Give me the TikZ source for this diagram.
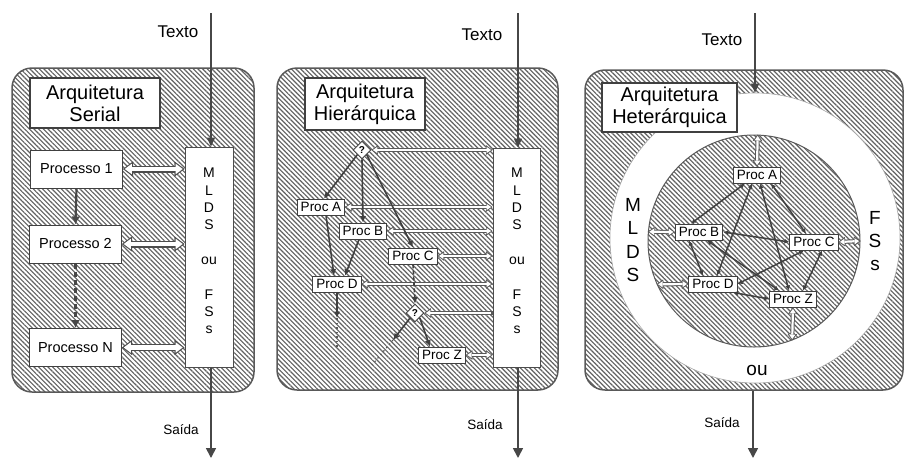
\documentclass[tikz,border=0pt]{standalone}
\usepackage{fontspec}
\setmainfont{Liberation Sans}
\usetikzlibrary{patterns.meta,arrows.meta,shapes.geometric,calc}
\tikzset{
  hatch/.style={pattern={Lines[angle=-45,distance=3.3pt,line width=1.15pt]}, pattern color=black!62},
  panel/.style={draw=black!65, line width=1.5pt, rounded corners=20pt, hatch, inner sep=0pt},
  titlebox/.style={draw=black!75, line width=1.8pt, fill=white, align=center, inner sep=0pt,
    font=\fontsize{20}{22}\selectfont},
  mbox/.style={draw=black!70, line width=1pt, fill=white, inner sep=0pt},
  mtext/.style={align=center, inner sep=0pt, font=\fontsize{14}{17.3}\selectfont},
  procbox/.style={draw=black!75, line width=1pt, fill=white, inner sep=0pt,
    minimum width=92pt, minimum height=38pt, font=\fontsize{14.5}{15}\selectfont},
  pbox/.style={draw=black!75, line width=0.9pt, fill=white, inner xsep=3.5pt, inner ysep=0pt,
    minimum height=16pt, font=\fontsize{13.5}{14}\selectfont},
  qdia/.style={diamond, draw=black!75, line width=0.9pt, fill=white, inner sep=0.5pt, aspect=1,
    minimum size=18pt, font=\fontsize{10}{10}\selectfont\bfseries},
  lab/.style={inner sep=0pt, font=\fontsize{17}{18}\selectfont},
  slab/.style={inner sep=0pt, font=\fontsize{13.5}{14}\selectfont},
  big/.style={inner sep=0pt, align=center, font=\fontsize{19}{23.3}\selectfont},
  inarr/.style={line width=1.5pt, draw=black!72, -{Triangle[length=9pt,width=8pt]}},
  outarr/.style={line width=1.7pt, draw=black!72, -{Triangle[length=10pt,width=10pt]}},
  darrb/.style={line width=2.2pt, draw=black!72, -{Latex[length=8pt,width=9pt]}},
  darr/.style={line width=1.6pt, draw=black!75, -{Latex[length=6.5pt,width=6.5pt]}},
  darr2/.style={line width=1.5pt, draw=black!75, {Latex[length=5pt,width=5pt]}-{Latex[length=5pt,width=5pt]}},
  dots/.style={line width=1.2pt, draw=black!65, dash pattern=on 1.5pt off 3pt},
  BO/.tip={Triangle[length=10pt,width=15pt,line width=0.4pt]},
  BI/.tip={Triangle[length=7pt,width=10.5pt,line width=0pt]},
  SO/.tip={Triangle[length=6.5pt,width=9.5pt,line width=0.3pt]},
  SI/.tip={Triangle[length=4.5pt,width=6.2pt,line width=0pt]},
  hbo/.style={line width=7pt, draw=black!70},
  hbi/.style={line width=4.2pt, draw=white, shorten <=1.8pt, shorten >=1.8pt},
  hso/.style={line width=4.2pt, draw=black!65},
  hsi/.style={line width=2.2pt, draw=white, shorten <=1.4pt, shorten >=1.4pt},
}
\newcommand\holb[2]{\draw[hbo,BO-BO] #1 -- #2; \draw[hbi,BI-BI] #1 -- #2;}
\newcommand\hols[2]{\draw[hso,SO-SO] #1 -- #2; \draw[hsi,SI-SI] #1 -- #2;}
\newcommand\holsone[2]{\draw[hso,-SO] #1 -- #2; \draw[hsi,-SI] #1 -- #2;}

\begin{document}
\begin{tikzpicture}[x=1pt,y=-1pt]
\useasboundingbox (0,0) rectangle (905,459);

% ================= Panel 1: Serial =================
\node[panel, minimum width=242pt, minimum height=324pt] (P1) at (133,230) {};
\node[titlebox, minimum width=130pt, minimum height=50pt] (T1) at (95,103) {Arquitetura\\Serial};
\node[mbox, minimum width=48pt, minimum height=220pt] (m1) at (209,257) {};
\node[mtext] (m1t) at (209,251) {M\\L\\D\\S\\[17.3pt]ou\\[17.3pt]F\\S\\s};
\node[procbox] (p1) at (76.5,169) {Processo 1};
\node[procbox] (p2) at (75.5,244) {Processo 2};
\node[procbox] (pN) at (75.5,347.5) {Processo N};
\draw[darrb] (p1.south) -- (p2.north);
\draw[darrb, dash pattern=on 5pt off 3pt] (p2.south) -- (pN.north);
\holb{(p1.east)}{(m1.west |- p1.east)}
\holb{(p2.east)}{(m1.west |- p2.east)}
\holb{(pN.east)}{(m1.west |- pN.east)}
\node[lab] (tx1) at (178,32) {Texto};
\coordinate (i1) at (211,13);
\draw[inarr] (i1) -- (i1 |- m1.north);
\node[slab] (s1) at (181,430) {Saída};
\coordinate (o1) at (211,458);
\draw[outarr] (o1 |- m1.south) -- (o1);

% ================= Panel 2: Hierarquica =================
\node[panel, minimum width=281pt, minimum height=322pt] (P2) at (417.5,229) {};
\node[titlebox, minimum width=120pt, minimum height=52pt] (T2) at (365,104) {Arquitetura\\Hierárquica};
\node[mbox, minimum width=47pt, minimum height=219pt] (m2) at (516.5,257.5) {};
\node[mtext] (m2t) at (517,251) {M\\L\\D\\S\\[17.3pt]ou\\[17.3pt]F\\S\\s};
\node[qdia] (q1) at (362,150) {?};
\node[pbox] (pa) at (321,207) {Proc A};
\node[pbox] (pb) at (363,231) {Proc B};
\node[pbox] (pc) at (413,256) {Proc C};
\node[pbox] (pd) at (337,284) {Proc D};
\node[qdia] (q2) at (415,313) {?};
\node[pbox] (pz) at (442,355) {Proc Z};
\hols{(q1.east)}{(m2.west |- q1.east)}
\hols{(pa.east)}{(m2.west |- pa.east)}
\hols{(pb.east)}{(m2.west |- pb.east)}
\hols{(pc.east)}{(m2.west |- pc.east)}
\hols{(pd.east)}{(m2.west |- pd.east)}
\holsone{(m2.west |- q2.east)}{(q2.east)}
\hols{(pz.east)}{(m2.west |- pz.east)}
\draw[darr] (q1.south west) -- ($(pa.north)+(3,0)$);
\draw[darr] (q1.south) -- (pb.north);
\draw[darr] (q1.south east) -- (pc.north);
\draw[darr] ($(pa.south)+(5,0)$) -- ($(pd.north)+(-3,0)$);
\draw[darr] ($(pb.south)+(-4,0)$) -- ($(pd.north)+(8,0)$);
\coordinate (d1) at (337,318);
\coordinate (d1e) at (337,348);
\draw[darr] (pd.south) -- (d1);
\draw[dots] (d1) -- (d1e);
\draw[darr, dash pattern=on 4pt off 2pt] (pc.south) -- (q2.north);
\draw[darr] (q2.south east) -- ($(pz.north)+(-12,0)$);
\coordinate (d2) at (393,340);
\coordinate (d2e) at (372,365);
\draw[darr] (q2.south west) -- (d2);
\draw[dots] (d2) -- (d2e);
\node[lab] (tx2) at (482,35) {Texto};
\coordinate (i2) at (518,13);
\draw[inarr] (i2) -- (i2 |- m2.north);
\node[slab] (s2) at (485,425) {Saída};
\coordinate (o2) at (518,458);
\draw[outarr] (o2 |- m2.south) -- (o2);

% ================= Panel 3: Heterarquica =================
\node[panel, minimum width=318pt, minimum height=320pt] (P3) at (744,230) {};
\node[circle, draw=black!35, line width=0.6pt, fill=white, minimum size=290pt, inner sep=0pt] (ring) at (755,238) {};
\node[circle, hatch, draw=black!65, line width=1pt, minimum size=212pt, inner sep=0pt] (inner) at (754,241) {};
\node[titlebox, minimum width=135pt, minimum height=49pt] (T3) at (669.5,107.5) {Arquitetura\\Heterárquica};
\node[big] (ml3) at (633,240) {M\\L\\D\\S};
\node[big, font=\fontsize{19}{22.6}\selectfont] (fs3) at (875,241) {F\\S\\s};
\node[big] (ou3) at (757,370) {ou};
\node[pbox] (qa) at (757,175) {Proc A};
\node[pbox] (qb) at (699,232) {Proc B};
\node[pbox] (qc) at (814,242) {Proc C};
\node[pbox] (qd) at (713,284) {Proc D};
\node[pbox] (qz) at (793,299) {Proc Z};
\draw[darr2] ($(qa.south)+(-12,0)$) -- ($(qb.north)+(-8,0)$);
\draw[darr2] ($(qa.south)+(-5,0)$) -- ($(qd.north)+(4,0)$);
\draw[darr2] ($(qa.south)+(14,0)$) -- ($(qc.north)+(-8,0)$);
\draw[darr2] ($(qa.south)+(3,0)$) -- ($(qz.north)+(-4,0)$);
\draw[darr2] (qb.east) -- (qc.west);
\draw[darr2] ($(qb.south)+(-10,0)$) -- ($(qd.north)+(-10,0)$);
\draw[darr2] ($(qb.south)+(8,0)$) -- ($(qz.north)+(-14,0)$);
\draw[darr2] ($(qc.south)+(-10,0)$) -- (qd.east);
\draw[darr2] ($(qc.south)+(8,0)$) -- ($(qz.north)+(10,0)$);
\draw[darr2] ($(qd.south)+(20,0)$) -- (qz.west);
\hols{(qa.north)}{(inner.88.4)}
\hols{(qb.west)}{(inner.175)}
\hols{(qc.east)}{(inner.0)}
\hols{(qd.west)}{(inner.204)}
\hols{(qz.south)}{(inner.291.6)}
\node[lab] (tx3) at (722,40) {Texto};
\coordinate (i3) at (755,13);
\draw[inarr] (i3) -- (ring.north);
\node[slab] (s3) at (722,423) {Saída};
\coordinate (o3) at (753,458);
\draw[outarr] (o3 |- P3.south) -- (o3);
\end{tikzpicture}
\end{document}
